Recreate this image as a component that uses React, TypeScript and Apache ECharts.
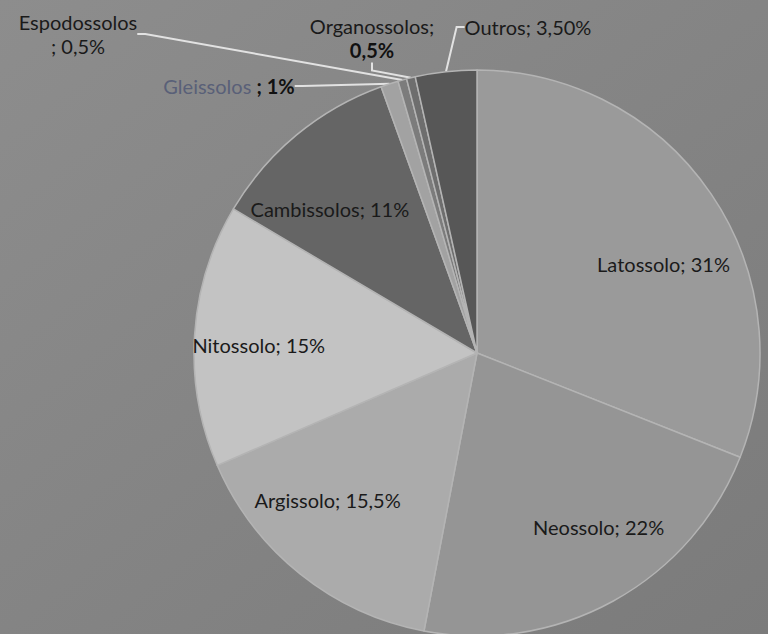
import React, { useEffect, useRef } from 'react';
import * as echarts from 'echarts';

const categories = ['Latossolo', 'Neossolo', 'Argissolo', 'Nitossolo', 'Cambissolos', 'Gleissolos', 'Espodossolos', 'Organossolos', 'Outros'];
const values = [31, 22, 15.5, 15, 11, 1, 0.5, 0.5, 3.5];
const valueTexts = ['31%', '22%', '15,5%', '15%', '11%', '1%', '0,5%', '0,5%', '3,50%'];
const sliceColors = ['#9a9a9a', '#959595', '#ababab', '#c3c3c3', '#656565', '#a2a2a2', '#7c7c7c', '#6e6e6e', '#575757'];

// label placement tweaks (text only)
const insideOffsets: Record<number, [number, number]> = {
  0: [67, -8],
  1: [52, 47],
  2: [-59, 34],
  3: [-74, 1],
  4: [-55, -33],
};
const outsideLabelPos: Record<number, [number, number]> = {
  5: [229, 86],
  6: [78, 34],
  7: [372, 38],
  8: [528, 27],
};

export default function App() {
  const ref = useRef<HTMLDivElement>(null);
  useEffect(() => {
    if (!ref.current) return;
    const chart = echarts.init(ref.current, null, { renderer: 'svg' });
    const font = 'Lato, "Noto Sans", sans-serif';
    const data = categories.map((name, i) => {
      const inside = insideOffsets[i] !== undefined;
      let formatter = `${name}; ${valueTexts[i]}`;
      if (i === 6) formatter = `${name}\n; ${valueTexts[i]}`;
      if (i === 7) formatter = `${name};\n{b|${valueTexts[i]}}`;
      if (i === 5) formatter = `{g|${name}} {b|; ${valueTexts[i]}}`;
      return {
        name,
        value: values[i],
        itemStyle: { color: sliceColors[i] },
        label: inside
          ? { position: 'inside', offset: insideOffsets[i], formatter }
          : { position: 'outside', formatter },
        labelLine: { show: !inside },
      };
    });
    chart.setOption({
      animation: false,
      backgroundColor: {
        type: 'linear', x: 0, y: 0, x2: 1, y2: 1,
        colorStops: [
          { offset: 0, color: '#8d8d8d' },
          { offset: 1, color: '#7b7b7b' },
        ],
      },
      series: [
        {
          type: 'pie',
          center: [477, 353],
          radius: [0, 283],
          startAngle: 90,
          clockwise: true,
          avoidLabelOverlap: false,
          itemStyle: { borderColor: '#b4b4b4', borderWidth: 1.5 },
          label: {
            color: '#1a1a1a',
            fontFamily: font,
            fontSize: 20,
            lineHeight: 24,
            rich: {
              b: { color: '#111', fontFamily: font, fontSize: 20, fontWeight: 'bold', lineHeight: 25 },
              g: { color: '#596078', fontFamily: font, fontSize: 20, lineHeight: 24 },
            },
          },
          labelLine: {
            show: true,
            length: 8,
            length2: 8,
            lineStyle: { color: '#e2e2e2', width: 2 },
          },
          labelLayout: (params: any) => {
            const p = outsideLabelPos[params.dataIndex];
            if (!p) return {};
            return { x: p[0], y: p[1], align: 'center', verticalAlign: 'middle' };
          },
          emphasis: { disabled: true },
          data,
        },
      ],
    });
    return () => chart.dispose();
  }, []);
  return (
    <div
      ref={ref}
      style={{ position: 'absolute', left: 0, top: 0, width: 768, height: 634 }}
    />
  );
}
